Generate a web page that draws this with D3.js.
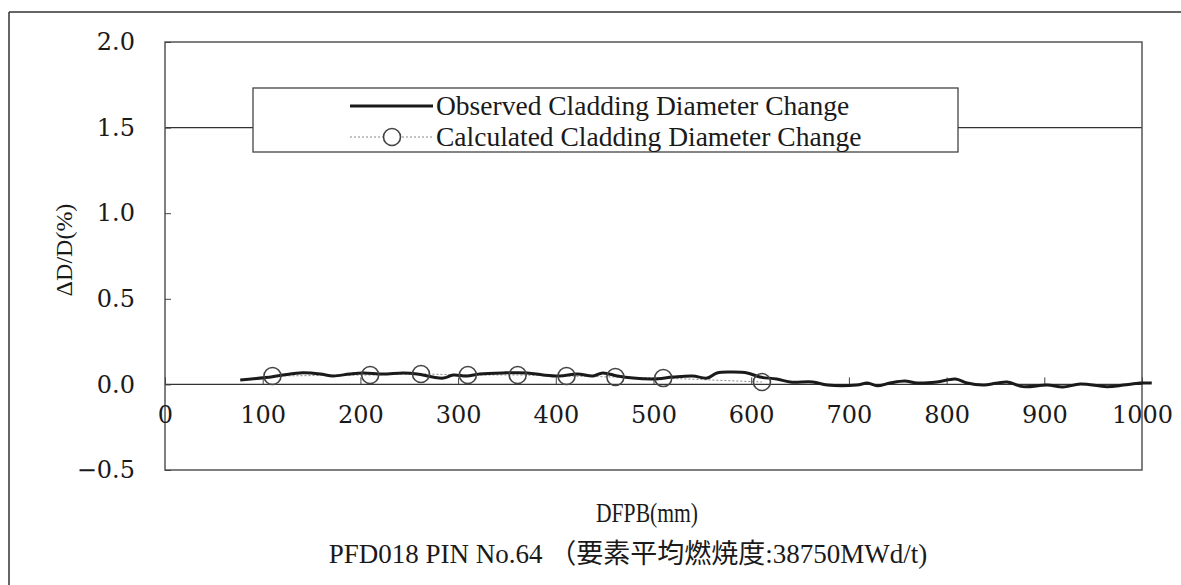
<!DOCTYPE html>
<html>
<head>
<meta charset="utf-8">
<script src="https://cdn.jsdelivr.net/npm/d3@7"></script>
<style>
  html, body { margin: 0; padding: 0; background: #ffffff; }
  svg { display: block; }
  text { font-family: "Liberation Serif", "Noto Sans CJK JP", serif; fill: #1a1a1a; }
  .tick text { font-family: "DejaVu Serif", serif; }
</style>
</head>
<body>
<svg id="chart" width="1181" height="585"></svg>
<script>
'use strict';

// ── Data ──────────────────────────────────────────────────
const xTicks = [0, 100, 200, 300, 400, 500, 600, 700, 800, 900, 1000];
const yTicks = [-0.5, 0.0, 0.5, 1.0, 1.5, 2.0];
const yGridValues = [0.0, 1.5];

// Observed cladding diameter change (DFPB mm, dD/D %)
const observedPos = [77, 110, 121, 141, 159, 172, 189, 203, 223, 244, 258, 274, 285, 295, 309, 322,
  346, 371, 387, 404, 422, 438, 448, 463, 479, 500, 520, 540, 555, 565, 581, 596, 609, 626, 640,
  663, 678, 708, 719, 729, 742, 757, 770, 790, 809, 821, 837, 862, 878, 903, 919, 937, 964, 981,
  998, 1010];
const observedVal = [0.026, 0.045, 0.055, 0.068, 0.061, 0.049, 0.061, 0.067, 0.061, 0.067, 0.061,
  0.043, 0.037, 0.055, 0.049, 0.061, 0.067, 0.067, 0.055, 0.049, 0.061, 0.049, 0.067, 0.049, 0.037,
  0.032, 0.043, 0.049, 0.037, 0.067, 0.072, 0.067, 0.043, 0.032, 0.014, 0.014, -0.004, -0.004,
  0.008, -0.008, 0.008, 0.020, 0.008, 0.014, 0.032, 0.008, -0.004, 0.014, -0.013, -0.004, -0.015,
  0.002, -0.013, -0.004, 0.008, 0.008];

// Calculated cladding diameter change
const calculatedPos = [110, 210, 262, 310, 361, 411, 461, 510, 611];
const calculatedVal = [0.049, 0.055, 0.061, 0.055, 0.055, 0.049, 0.043, 0.037, 0.014];

const legendLabels = ['Observed Cladding Diameter Change', 'Calculated Cladding Diameter Change'];
const xTitle = 'DFPB(mm)';
const yTitle = 'ΔD/D(%)';
const caption = 'PFD018 PIN No.64 （要素平均燃焼度:38750MWd/t)';

// ── Layout ────────────────────────────────────────────────
const W = 1181, H = 585;
const plot = { left: 165, right: 1142, top: 42, bottom: 470 };
const FONT = 27;
const TICK_FONT = 24;

const svg = d3.select('#chart');

const x = d3.scaleLinear().domain([0, 1000]).range([plot.left, plot.right]);
const y = d3.scaleLinear().domain([-0.5, 2.0]).range([plot.bottom, plot.top]);

// outer page frame (top + left rule)
svg.append('line').attr('x1', 9).attr('x2', W).attr('y1', 12).attr('y2', 12)
  .attr('stroke', '#333').attr('stroke-width', 1.5);
svg.append('line').attr('x1', 9).attr('x2', 9).attr('y1', 12).attr('y2', H)
  .attr('stroke', '#333').attr('stroke-width', 1.5);

// grid lines
yGridValues.forEach(v => {
  svg.append('line')
    .attr('x1', plot.left).attr('x2', plot.right)
    .attr('y1', y(v)).attr('y2', y(v))
    .attr('stroke', '#333').attr('stroke-width', 1.3);
});

// plot border
svg.append('rect')
  .attr('x', plot.left).attr('y', plot.top)
  .attr('width', plot.right - plot.left).attr('height', plot.bottom - plot.top)
  .attr('fill', 'none').attr('stroke', '#555').attr('stroke-width', 1.5);

// y axis (inward ticks)
const yAxis = svg.append('g')
  .attr('transform', `translate(${plot.left},0)`)
  .call(d3.axisLeft(y).tickValues(yTicks).tickFormat(d => d < 0 ? '−' + Math.abs(d).toFixed(1) : d.toFixed(1))
    .tickSizeInner(-6).tickSizeOuter(0).tickPadding(30));
yAxis.select('.domain').remove();
yAxis.selectAll('line').attr('stroke', '#444');
yAxis.selectAll('text').style('font-size', TICK_FONT + 'px');

// x axis sits on the zero line, ticks pointing up, labels below
const xAxis = svg.append('g')
  .attr('transform', `translate(0,${y(0)})`)
  .call(d3.axisBottom(x).tickValues(xTicks).tickFormat(d3.format('d'))
    .tickSizeInner(-7).tickSizeOuter(0).tickPadding(22));
xAxis.select('.domain').remove();
xAxis.selectAll('line').attr('stroke', '#444');
xAxis.selectAll('text').style('font-size', TICK_FONT + 'px');

// calculated: dotted connector + open circles
const calcPts = calculatedPos.map((p, i) => ({ p, v: calculatedVal[i] }));
svg.append('path')
  .datum(calcPts)
  .attr('d', d3.line().x(d => x(d.p)).y(d => y(d.v)))
  .attr('fill', 'none').attr('stroke', '#888').attr('stroke-width', 1)
  .attr('stroke-dasharray', '2,2');

// observed line
const obsPts = observedPos.map((p, i) => ({ p, v: observedVal[i] }));
svg.append('path')
  .datum(obsPts)
  .attr('d', d3.line().x(d => x(d.p)).y(d => y(d.v)).curve(d3.curveCatmullRom.alpha(0.5)))
  .attr('fill', 'none').attr('stroke', '#1a1a1a').attr('stroke-width', 3);

svg.selectAll('.calc-dot')
  .data(calcPts)
  .join('circle')
  .attr('class', 'calc-dot')
  .attr('cx', d => x(d.p)).attr('cy', d => y(d.v))
  .attr('r', 8.5)
  .attr('fill', 'none').attr('stroke', '#444').attr('stroke-width', 1.6);

// legend
const lg = { x: 253, y: 88, w: 705, h: 64 };
svg.append('rect')
  .attr('x', lg.x).attr('y', lg.y).attr('width', lg.w).attr('height', lg.h)
  .attr('fill', '#fff').attr('stroke', '#444').attr('stroke-width', 1.3);
const rowY = [106, 137];
svg.append('line').attr('x1', 350).attr('x2', 433).attr('y1', rowY[0]).attr('y2', rowY[0])
  .attr('stroke', '#1a1a1a').attr('stroke-width', 3);
svg.append('line').attr('x1', 350).attr('x2', 433).attr('y1', rowY[1]).attr('y2', rowY[1])
  .attr('stroke', '#888').attr('stroke-width', 1).attr('stroke-dasharray', '2,2');
svg.append('circle').attr('cx', 392).attr('cy', rowY[1]).attr('r', 8.5)
  .attr('fill', '#fff').attr('stroke', '#444').attr('stroke-width', 1.6);
legendLabels.forEach((t, i) => {
  svg.append('text')
    .attr('x', 436).attr('y', rowY[i])
    .attr('dy', '0.33em')
    .attr('font-size', 27.5)
    .text(t);
});

// axis titles
svg.append('text')
  .attr('transform', `translate(64,250) rotate(-90)`)
  .attr('text-anchor', 'middle')
  .attr('dy', '0.33em')
  .attr('font-size', 24)
  .text(yTitle);

svg.append('text')
  .attr('transform', `translate(647,522) scale(0.8,1)`)
  .attr('text-anchor', 'middle')
  .attr('font-size', FONT)
  .text(xTitle);

svg.append('text')
  .attr('x', 628).attr('y', 563)
  .attr('text-anchor', 'middle')
  .attr('font-size', FONT)
  .text(caption);
</script>
</body>
</html>
